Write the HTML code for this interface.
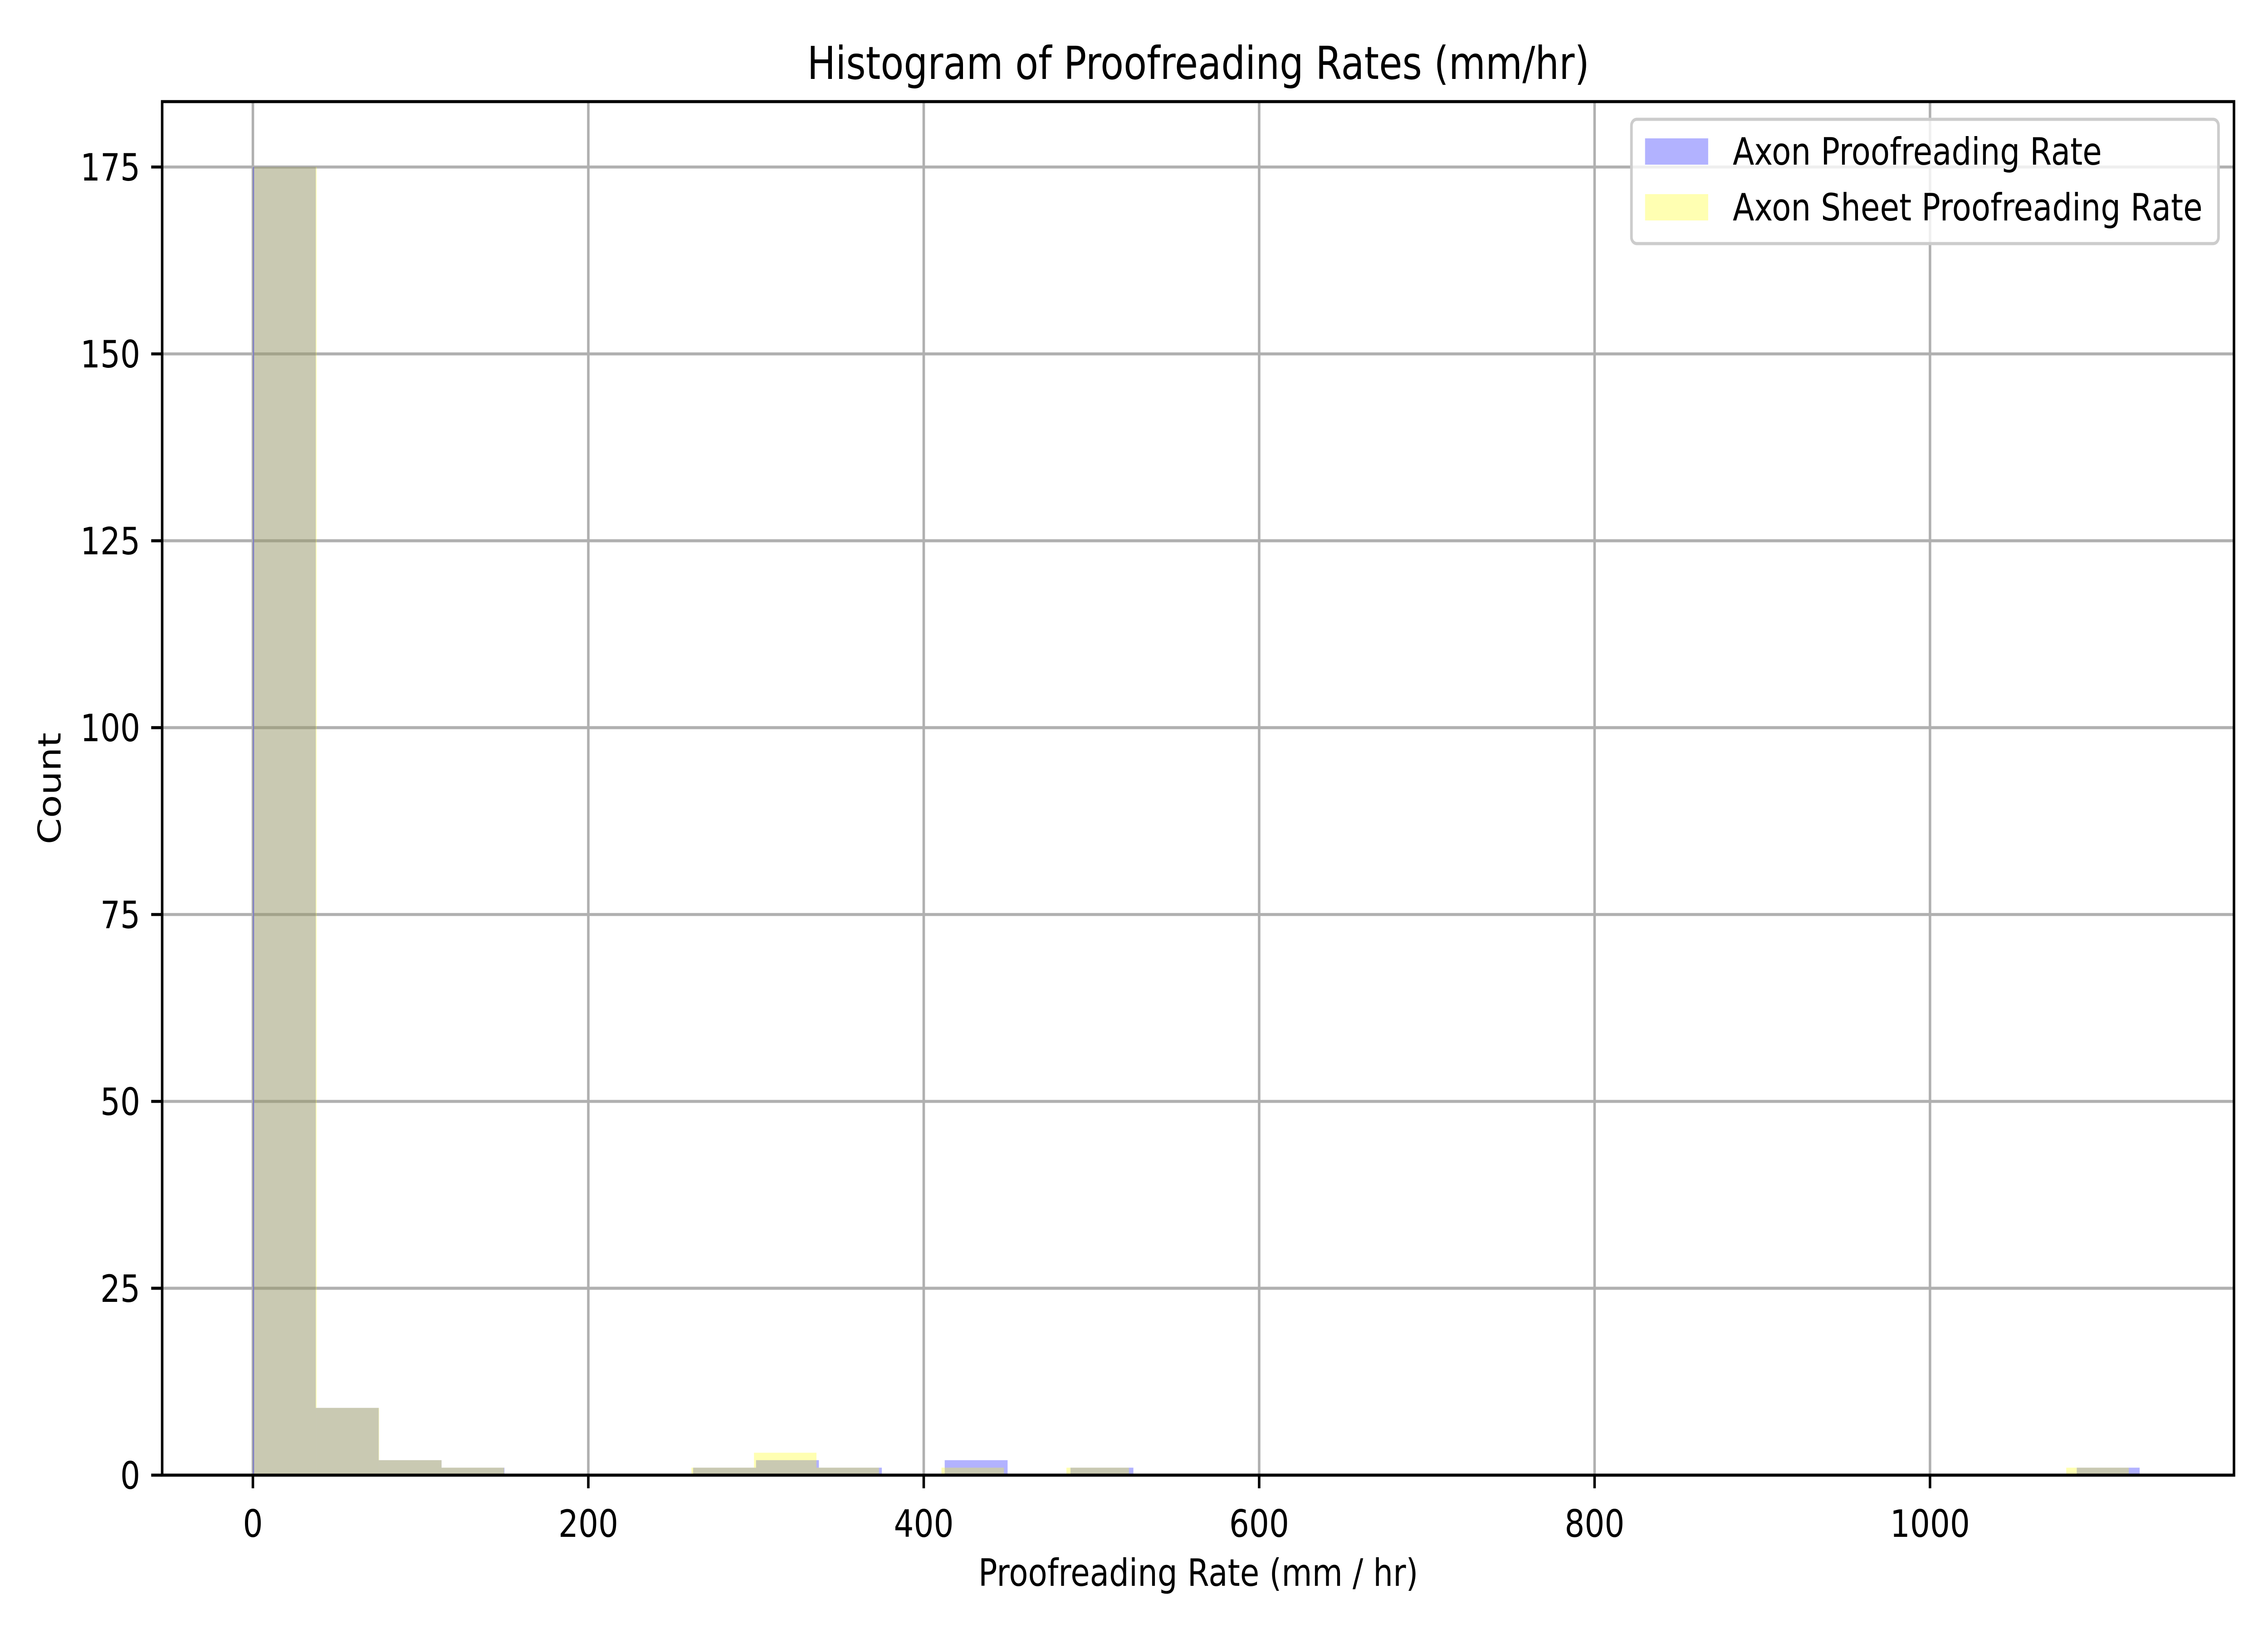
<!DOCTYPE html>
<html><head><meta charset="utf-8"><style>
html,body{margin:0;padding:0;background:#fff;width:100%;height:100%;overflow:hidden;}
svg{display:block;width:100vw;height:100vh;font-family:"DejaVu Sans","Liberation Sans",sans-serif;}
</style></head><body>
<svg id="chart" viewBox="0 0 6000 3600" preserveAspectRatio="none" xmlns="http://www.w3.org/2000/svg">
<rect x="0" y="0" width="6000" height="3600" fill="#ffffff"/>
<g id="grid"></g>
<g id="bars-axon"></g>
<g id="bars-sheet"></g>
<g id="axes"></g>
<text x="3170" y="174" font-size="100" text-anchor="middle">Histogram of Proofreading Rates (mm/hr)</text>
<text x="3170" y="3496" font-size="83" text-anchor="middle">Proofreading Rate (mm / hr)</text>
<text x="160" y="1738" font-size="83" text-anchor="middle" transform="rotate(-90 160 1738)">Count</text>
<g>
<rect x="4316" y="263" width="1553" height="274" rx="14" fill="#ffffff" fill-opacity="0.8" stroke="#cccccc" stroke-width="7"/>
<rect x="4352" y="305" width="167" height="58" fill="rgb(0,0,255)" fill-opacity="0.3"/>
<text x="4584" y="363" font-size="83">Axon Proofreading Rate</text>
<rect x="4352" y="428" width="167" height="58" fill="rgb(255,255,0)" fill-opacity="0.3"/>
<text x="4584" y="486" font-size="83">Axon Sheet Proofreading Rate</text>
</g>
</svg>
<script>
const axonBinStart = 0;
const axonBinWidth = 37.5;
const axonCounts = [175,9,2,1,0,0,0,1,2,1,0,2,0,1,0,0,0,0,0,0,0,0,0,0,0,0,0,0,0,1];
const sheetBinStart = 0.7;
const sheetBinWidth = 37.26;
const sheetCounts = [175,9,2,1,0,0,0,1,3,1,0,1,0,1,0,0,0,0,0,0,0,0,0,0,0,0,0,0,0,1];
const xTicks = [0,200,400,600,800,1000];
const yTicks = [0,25,50,75,100,125,150,175];

const L=429,R=5910,T=224,B=3252;
const X0=-54.1,X1=1181.25,Y0=0,Y1=183.75;
const NS='http://www.w3.org/2000/svg';
function sx(v){return L+(v-X0)/(X1-X0)*(R-L);}
function sy(v){return B-(v-Y0)/(Y1-Y0)*(B-T);}
function mk(tag,attrs,parent){const e=document.createElementNS(NS,tag);for(const k in attrs)e.setAttribute(k,attrs[k]);parent.appendChild(e);return e;}

const grid=document.getElementById('grid');
const axes=document.getElementById('axes');
xTicks.forEach(t=>{
  const g=mk('line',{x1:sx(t),x2:sx(t),y1:T,y2:B,stroke:'#b0b0b0','stroke-width':6.7},grid);
  
  
  const tk=mk('line',{x1:sx(t),x2:sx(t),y1:B,y2:B+29,stroke:'#000','stroke-width':6.7},axes);
  
  
  const lb=mk('text',{x:sx(t),y:B+29+29+78,'font-size':83,'text-anchor':'middle'},axes);
  lb.textContent=String(t);
  
  
});
yTicks.forEach(t=>{
  const g=mk('line',{x1:L,x2:R,y1:sy(t),y2:sy(t),stroke:'#b0b0b0','stroke-width':6.7},grid);
  
  
  const tk=mk('line',{x1:L-29,x2:L,y1:sy(t),y2:sy(t),stroke:'#000','stroke-width':6.7},axes);
  
  
  const lb=mk('text',{x:L-29-29,y:sy(t)+30,'font-size':83,'text-anchor':'end'},axes);
  lb.textContent=String(t);
  
  
});
function drawBars(counts,start,w,fill,parentId,name){
  const p=document.getElementById(parentId);
  counts.forEach((c,i)=>{
    if(c<=0)return;
    const x0=sx(start+i*w),x1=sx(start+(i+1)*w);
    const r=mk('rect',{x:x0,y:sy(c),width:x1-x0,height:sy(0)-sy(c),fill:fill,'fill-opacity':0.3},p);
    
    
  });
}
drawBars(axonCounts,axonBinStart,axonBinWidth,'rgb(0,0,255)','bars-axon','axon-bar');
drawBars(sheetCounts,sheetBinStart,sheetBinWidth,'rgb(255,255,0)','bars-sheet','axon-sheet-bar');
const frame=mk('rect',{x:L,y:T,width:R-L,height:B-T,fill:'none',stroke:'#000','stroke-width':6.7},axes);


</script>
</body></html>
